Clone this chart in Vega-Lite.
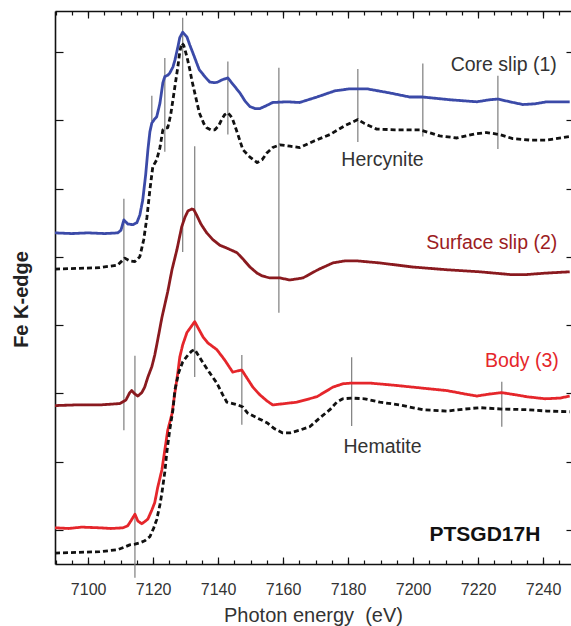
{
  "$schema": "https://vega.github.io/schema/vega-lite/v6.json",
  "width": 516,
  "height": 553,
  "autosize": "none",
  "padding": {"left": 55, "top": 11, "right": 0, "bottom": 62},
  "background": "white",
  "config": {
    "view": {"stroke": null},
    "font": "Liberation Sans",
    "axis": {
      "grid": false,
      "domainColor": "#111",
      "domainWidth": 1.6,
      "tickColor": "#111",
      "tickWidth": 1.2,
      "labelColor": "#333",
      "labelFont": "Liberation Sans",
      "labelFontSize": 16,
      "titleFont": "Liberation Sans",
      "titleColor": "#333"
    }
  },
  "datasets": {
    "spectra": [
      {"s":"Core slip (1)","E":7089.8,"A":4.35},{"s":"Core slip (1)","E":7095,"A":4.34},{"s":"Core slip (1)","E":7100,"A":4.35},{"s":"Core slip (1)","E":7105,"A":4.34},{"s":"Core slip (1)","E":7109.1,"A":4.35},{"s":"Core slip (1)","E":7110.1,"A":4.39},{"s":"Core slip (1)","E":7111.0,"A":4.54},{"s":"Core slip (1)","E":7112.2,"A":4.48},{"s":"Core slip (1)","E":7113.75,"A":4.47},{"s":"Core slip (1)","E":7115.0,"A":4.50},{"s":"Core slip (1)","E":7115.9,"A":4.61},{"s":"Core slip (1)","E":7116.8,"A":4.83},{"s":"Core slip (1)","E":7117.7,"A":5.20},{"s":"Core slip (1)","E":7118.4,"A":5.57},{"s":"Core slip (1)","E":7119.0,"A":5.83},{"s":"Core slip (1)","E":7119.6,"A":5.96},{"s":"Core slip (1)","E":7120.5,"A":6.02},{"s":"Core slip (1)","E":7121.1,"A":6.05},{"s":"Core slip (1)","E":7122.1,"A":6.25},{"s":"Core slip (1)","E":7123.0,"A":6.55},{"s":"Core slip (1)","E":7123.6,"A":6.64},{"s":"Core slip (1)","E":7124.5,"A":6.66},{"s":"Core slip (1)","E":7125.1,"A":6.69},{"s":"Core slip (1)","E":7126.1,"A":6.78},{"s":"Core slip (1)","E":7126.7,"A":6.88},{"s":"Core slip (1)","E":7127.6,"A":7.07},{"s":"Core slip (1)","E":7128.2,"A":7.21},{"s":"Core slip (1)","E":7129.1,"A":7.29},{"s":"Core slip (1)","E":7130.4,"A":7.22},{"s":"Core slip (1)","E":7131.3,"A":7.10},{"s":"Core slip (1)","E":7132.2,"A":6.99},{"s":"Core slip (1)","E":7133.4,"A":6.84},{"s":"Core slip (1)","E":7134.2,"A":6.74},{"s":"Core slip (1)","E":7135.9,"A":6.64},{"s":"Core slip (1)","E":7137.4,"A":6.56},{"s":"Core slip (1)","E":7139.0,"A":6.55},{"s":"Core slip (1)","E":7139.9,"A":6.56},{"s":"Core slip (1)","E":7141.1,"A":6.59},{"s":"Core slip (1)","E":7143.0,"A":6.62},{"s":"Core slip (1)","E":7144.5,"A":6.53},{"s":"Core slip (1)","E":7146.7,"A":6.40},{"s":"Core slip (1)","E":7148.3,"A":6.28},{"s":"Core slip (1)","E":7149.8,"A":6.20},{"s":"Core slip (1)","E":7151.4,"A":6.17},{"s":"Core slip (1)","E":7152.8,"A":6.17},{"s":"Core slip (1)","E":7154.7,"A":6.21},{"s":"Core slip (1)","E":7156.8,"A":6.26},{"s":"Core slip (1)","E":7161.1,"A":6.27},{"s":"Core slip (1)","E":7165.1,"A":6.26},{"s":"Core slip (1)","E":7170.4,"A":6.34},{"s":"Core slip (1)","E":7175.9,"A":6.43},{"s":"Core slip (1)","E":7180.5,"A":6.46},{"s":"Core slip (1)","E":7185.8,"A":6.46},{"s":"Core slip (1)","E":7192.8,"A":6.40},{"s":"Core slip (1)","E":7199.0,"A":6.34},{"s":"Core slip (1)","E":7203.0,"A":6.34},{"s":"Core slip (1)","E":7211.3,"A":6.30},{"s":"Core slip (1)","E":7219.6,"A":6.27},{"s":"Core slip (1)","E":7223.6,"A":6.30},{"s":"Core slip (1)","E":7226.1,"A":6.31},{"s":"Core slip (1)","E":7229.8,"A":6.27},{"s":"Core slip (1)","E":7233.8,"A":6.23},{"s":"Core slip (1)","E":7237.4,"A":6.24},{"s":"Core slip (1)","E":7241.2,"A":6.27},{"s":"Core slip (1)","E":7248.2,"A":6.27},

      {"s":"Hercynite","E":7089.8,"A":3.82},{"s":"Hercynite","E":7103.6,"A":3.84},{"s":"Hercynite","E":7109.1,"A":3.88},{"s":"Hercynite","E":7110.4,"A":3.94},{"s":"Hercynite","E":7111.3,"A":3.98},{"s":"Hercynite","E":7112.8,"A":3.94},{"s":"Hercynite","E":7114.4,"A":3.93},{"s":"Hercynite","E":7115.9,"A":4.00},{"s":"Hercynite","E":7117.1,"A":4.25},{"s":"Hercynite","E":7118.1,"A":4.58},{"s":"Hercynite","E":7119.0,"A":4.98},{"s":"Hercynite","E":7119.9,"A":5.32},{"s":"Hercynite","E":7121.1,"A":5.42},{"s":"Hercynite","E":7122.1,"A":5.60},{"s":"Hercynite","E":7123.0,"A":5.86},{"s":"Hercynite","E":7123.9,"A":5.89},{"s":"Hercynite","E":7124.5,"A":5.89},{"s":"Hercynite","E":7125.4,"A":6.08},{"s":"Hercynite","E":7126.1,"A":6.30},{"s":"Hercynite","E":7127.0,"A":6.59},{"s":"Hercynite","E":7127.6,"A":6.78},{"s":"Hercynite","E":7128.2,"A":7.00},{"s":"Hercynite","E":7128.8,"A":7.13},{"s":"Hercynite","E":7129.4,"A":7.10},{"s":"Hercynite","E":7130.4,"A":6.93},{"s":"Hercynite","E":7131.3,"A":6.74},{"s":"Hercynite","E":7131.9,"A":6.59},{"s":"Hercynite","E":7133.1,"A":6.34},{"s":"Hercynite","E":7134.2,"A":6.11},{"s":"Hercynite","E":7135.6,"A":5.95},{"s":"Hercynite","E":7136.5,"A":5.89},{"s":"Hercynite","E":7137.7,"A":5.86},{"s":"Hercynite","E":7139.0,"A":5.86},{"s":"Hercynite","E":7140.2,"A":5.92},{"s":"Hercynite","E":7141.1,"A":6.01},{"s":"Hercynite","E":7142.0,"A":6.08},{"s":"Hercynite","E":7143.0,"A":6.11},{"s":"Hercynite","E":7143.9,"A":6.06},{"s":"Hercynite","E":7144.5,"A":6.01},{"s":"Hercynite","E":7146.1,"A":5.79},{"s":"Hercynite","E":7147.6,"A":5.57},{"s":"Hercynite","E":7149.8,"A":5.46},{"s":"Hercynite","E":7152.0,"A":5.38},{"s":"Hercynite","E":7153.5,"A":5.42},{"s":"Hercynite","E":7155.0,"A":5.52},{"s":"Hercynite","E":7156.8,"A":5.60},{"s":"Hercynite","E":7159.0,"A":5.64},{"s":"Hercynite","E":7162.1,"A":5.62},{"s":"Hercynite","E":7165.1,"A":5.60},{"s":"Hercynite","E":7169.7,"A":5.70},{"s":"Hercynite","E":7174.4,"A":5.79},{"s":"Hercynite","E":7179.0,"A":5.92},{"s":"Hercynite","E":7183.0,"A":6.01},{"s":"Hercynite","E":7185.1,"A":5.95},{"s":"Hercynite","E":7188.8,"A":5.87},{"s":"Hercynite","E":7194.4,"A":5.86},{"s":"Hercynite","E":7202.1,"A":5.86},{"s":"Hercynite","E":7208.2,"A":5.77},{"s":"Hercynite","E":7213.5,"A":5.74},{"s":"Hercynite","E":7219.0,"A":5.80},{"s":"Hercynite","E":7222.7,"A":5.82},{"s":"Hercynite","E":7226.7,"A":5.79},{"s":"Hercynite","E":7230.7,"A":5.73},{"s":"Hercynite","E":7235.9,"A":5.71},{"s":"Hercynite","E":7241.2,"A":5.71},{"s":"Hercynite","E":7248.2,"A":5.76},

      {"s":"Surface slip (2)","E":7089.8,"A":1.82},{"s":"Surface slip (2)","E":7096,"A":1.83},{"s":"Surface slip (2)","E":7103.6,"A":1.83},{"s":"Surface slip (2)","E":7109.75,"A":1.85},{"s":"Surface slip (2)","E":7111.6,"A":1.90},{"s":"Surface slip (2)","E":7112.8,"A":2.01},{"s":"Surface slip (2)","E":7113.4,"A":2.04},{"s":"Surface slip (2)","E":7114.4,"A":1.99},{"s":"Surface slip (2)","E":7115.3,"A":1.96},{"s":"Surface slip (2)","E":7116.5,"A":2.01},{"s":"Surface slip (2)","E":7117.4,"A":2.09},{"s":"Surface slip (2)","E":7118.4,"A":2.24},{"s":"Surface slip (2)","E":7119.6,"A":2.39},{"s":"Surface slip (2)","E":7120.5,"A":2.56},{"s":"Surface slip (2)","E":7121.4,"A":2.78},{"s":"Surface slip (2)","E":7122.7,"A":3.11},{"s":"Surface slip (2)","E":7123.6,"A":3.30},{"s":"Surface slip (2)","E":7124.5,"A":3.49},{"s":"Surface slip (2)","E":7125.8,"A":3.81},{"s":"Surface slip (2)","E":7127.3,"A":4.10},{"s":"Surface slip (2)","E":7128.8,"A":4.44},{"s":"Surface slip (2)","E":7129.8,"A":4.58},{"s":"Surface slip (2)","E":7130.7,"A":4.67},{"s":"Surface slip (2)","E":7131.9,"A":4.70},{"s":"Surface slip (2)","E":7132.5,"A":4.69},{"s":"Surface slip (2)","E":7133.4,"A":4.61},{"s":"Surface slip (2)","E":7134.7,"A":4.48},{"s":"Surface slip (2)","E":7136.5,"A":4.35},{"s":"Surface slip (2)","E":7138.4,"A":4.25},{"s":"Surface slip (2)","E":7140.5,"A":4.17},{"s":"Surface slip (2)","E":7143.0,"A":4.12},{"s":"Surface slip (2)","E":7145.8,"A":4.06},{"s":"Surface slip (2)","E":7147.6,"A":3.97},{"s":"Surface slip (2)","E":7149.8,"A":3.85},{"s":"Surface slip (2)","E":7152.0,"A":3.76},{"s":"Surface slip (2)","E":7153.5,"A":3.72},{"s":"Surface slip (2)","E":7155.9,"A":3.69},{"s":"Surface slip (2)","E":7159.0,"A":3.69},{"s":"Surface slip (2)","E":7162.1,"A":3.66},{"s":"Surface slip (2)","E":7166.1,"A":3.69},{"s":"Surface slip (2)","E":7170.7,"A":3.81},{"s":"Surface slip (2)","E":7175.3,"A":3.91},{"s":"Surface slip (2)","E":7179.0,"A":3.94},{"s":"Surface slip (2)","E":7182.7,"A":3.94},{"s":"Surface slip (2)","E":7189.8,"A":3.91},{"s":"Surface slip (2)","E":7199.9,"A":3.85},{"s":"Surface slip (2)","E":7210.4,"A":3.81},{"s":"Surface slip (2)","E":7220.5,"A":3.78},{"s":"Surface slip (2)","E":7229.8,"A":3.74},{"s":"Surface slip (2)","E":7235.0,"A":3.74},{"s":"Surface slip (2)","E":7240.6,"A":3.76},{"s":"Surface slip (2)","E":7248.2,"A":3.78},

      {"s":"Body (3)","E":7089.8,"A":0.03},{"s":"Body (3)","E":7094,"A":0.02},{"s":"Body (3)","E":7098,"A":0.04},{"s":"Body (3)","E":7103.6,"A":0.03},{"s":"Body (3)","E":7107,"A":0.02},{"s":"Body (3)","E":7110.7,"A":0.03},{"s":"Body (3)","E":7112.2,"A":0.06},{"s":"Body (3)","E":7113.4,"A":0.15},{"s":"Body (3)","E":7114.4,"A":0.23},{"s":"Body (3)","E":7115.3,"A":0.13},{"s":"Body (3)","E":7116.5,"A":0.09},{"s":"Body (3)","E":7117.4,"A":0.12},{"s":"Body (3)","E":7118.4,"A":0.16},{"s":"Body (3)","E":7119.6,"A":0.29},{"s":"Body (3)","E":7120.5,"A":0.40},{"s":"Body (3)","E":7121.4,"A":0.62},{"s":"Body (3)","E":7122.7,"A":0.88},{"s":"Body (3)","E":7123.6,"A":1.17},{"s":"Body (3)","E":7124.5,"A":1.46},{"s":"Body (3)","E":7125.8,"A":1.70},{"s":"Body (3)","E":7126.7,"A":2.01},{"s":"Body (3)","E":7127.6,"A":2.30},{"s":"Body (3)","E":7128.2,"A":2.53},{"s":"Body (3)","E":7129.1,"A":2.71},{"s":"Body (3)","E":7130.4,"A":2.89},{"s":"Body (3)","E":7131.6,"A":2.97},{"s":"Body (3)","E":7132.8,"A":3.05},{"s":"Body (3)","E":7133.7,"A":2.97},{"s":"Body (3)","E":7135.3,"A":2.83},{"s":"Body (3)","E":7136.8,"A":2.74},{"s":"Body (3)","E":7139.6,"A":2.64},{"s":"Body (3)","E":7142.0,"A":2.49},{"s":"Body (3)","E":7144.5,"A":2.31},{"s":"Body (3)","E":7146.1,"A":2.33},{"s":"Body (3)","E":7147.3,"A":2.34},{"s":"Body (3)","E":7148.8,"A":2.23},{"s":"Body (3)","E":7150.7,"A":2.09},{"s":"Body (3)","E":7152.8,"A":1.98},{"s":"Body (3)","E":7155.0,"A":1.89},{"s":"Body (3)","E":7156.8,"A":1.83},{"s":"Body (3)","E":7160.5,"A":1.85},{"s":"Body (3)","E":7164.2,"A":1.87},{"s":"Body (3)","E":7170.4,"A":1.95},{"s":"Body (3)","E":7175.3,"A":2.09},{"s":"Body (3)","E":7178.4,"A":2.14},{"s":"Body (3)","E":7181.1,"A":2.15},{"s":"Body (3)","E":7186.7,"A":2.15},{"s":"Body (3)","E":7193.8,"A":2.12},{"s":"Body (3)","E":7202.1,"A":2.08},{"s":"Body (3)","E":7210.4,"A":2.04},{"s":"Body (3)","E":7216.0,"A":1.99},{"s":"Body (3)","E":7219.6,"A":1.96},{"s":"Body (3)","E":7223.6,"A":1.99},{"s":"Body (3)","E":7227.3,"A":2.01},{"s":"Body (3)","E":7231.3,"A":1.98},{"s":"Body (3)","E":7235.0,"A":1.95},{"s":"Body (3)","E":7240.6,"A":1.92},{"s":"Body (3)","E":7245.2,"A":1.93},{"s":"Body (3)","E":7248.2,"A":1.96},

      {"s":"Hematite","E":7089.8,"A":-0.34},{"s":"Hematite","E":7103.6,"A":-0.32},{"s":"Hematite","E":7109.1,"A":-0.29},{"s":"Hematite","E":7111.3,"A":-0.25},{"s":"Hematite","E":7112.8,"A":-0.22},{"s":"Hematite","E":7114.4,"A":-0.21},{"s":"Hematite","E":7115.9,"A":-0.19},{"s":"Hematite","E":7117.4,"A":-0.16},{"s":"Hematite","E":7119.0,"A":-0.10},{"s":"Hematite","E":7120.2,"A":0.03},{"s":"Hematite","E":7121.1,"A":0.15},{"s":"Hematite","E":7122.1,"A":0.37},{"s":"Hematite","E":7122.7,"A":0.54},{"s":"Hematite","E":7123.6,"A":0.85},{"s":"Hematite","E":7124.2,"A":1.13},{"s":"Hematite","E":7125.1,"A":1.46},{"s":"Hematite","E":7126.1,"A":1.76},{"s":"Hematite","E":7126.7,"A":2.05},{"s":"Hematite","E":7127.9,"A":2.31},{"s":"Hematite","E":7129.1,"A":2.46},{"s":"Hematite","E":7130.7,"A":2.56},{"s":"Hematite","E":7131.9,"A":2.62},{"s":"Hematite","E":7132.8,"A":2.64},{"s":"Hematite","E":7134.0,"A":2.55},{"s":"Hematite","E":7135.3,"A":2.45},{"s":"Hematite","E":7137.4,"A":2.30},{"s":"Hematite","E":7139.6,"A":2.15},{"s":"Hematite","E":7141.4,"A":1.98},{"s":"Hematite","E":7142.7,"A":1.87},{"s":"Hematite","E":7144.5,"A":1.85},{"s":"Hematite","E":7146.1,"A":1.83},{"s":"Hematite","E":7147.6,"A":1.80},{"s":"Hematite","E":7149.1,"A":1.71},{"s":"Hematite","E":7152.0,"A":1.64},{"s":"Hematite","E":7155.0,"A":1.57},{"s":"Hematite","E":7157.4,"A":1.48},{"s":"Hematite","E":7159.9,"A":1.42},{"s":"Hematite","E":7162.1,"A":1.42},{"s":"Hematite","E":7165.1,"A":1.46},{"s":"Hematite","E":7168.2,"A":1.51},{"s":"Hematite","E":7171.3,"A":1.64},{"s":"Hematite","E":7174.4,"A":1.76},{"s":"Hematite","E":7176.5,"A":1.87},{"s":"Hematite","E":7178.4,"A":1.92},{"s":"Hematite","E":7181.1,"A":1.93},{"s":"Hematite","E":7185.1,"A":1.92},{"s":"Hematite","E":7189.8,"A":1.87},{"s":"Hematite","E":7195.9,"A":1.83},{"s":"Hematite","E":7203.0,"A":1.76},{"s":"Hematite","E":7210.4,"A":1.74},{"s":"Hematite","E":7216.0,"A":1.77},{"s":"Hematite","E":7220.5,"A":1.79},{"s":"Hematite","E":7227.3,"A":1.77},{"s":"Hematite","E":7235.0,"A":1.76},{"s":"Hematite","E":7241.2,"A":1.74},{"s":"Hematite","E":7248.2,"A":1.73}
    ],
    "refs": [
      {"E":7111.0,"lo":1.46,"hi":4.85},
      {"E":7119.6,"lo":5.98,"hi":6.36},
      {"E":7123.6,"lo":5.54,"hi":6.91},
      {"E":7129.1,"lo":4.07,"hi":7.50},
      {"E":7143.0,"lo":5.79,"hi":6.86},
      {"E":7158.7,"lo":3.18,"hi":6.77},
      {"E":7183.0,"lo":5.68,"hi":6.75},
      {"E":7203.0,"lo":5.76,"hi":6.83},
      {"E":7226.1,"lo":5.58,"hi":6.65},
      {"E":7114.4,"lo":-0.70,"hi":2.55},
      {"E":7132.8,"lo":2.24,"hi":5.62},
      {"E":7147.3,"lo":1.54,"hi":2.56},
      {"E":7181.1,"lo":1.52,"hi":2.53},
      {"E":7227.3,"lo":1.51,"hi":2.17}
    ],
    "labels": [
      {"t":"Core slip (1)","E":7227.9,"A":6.81},
      {"t":"Hercynite","E":7190.6,"A":5.42},
      {"t":"Surface slip (2)","E":7224.2,"A":4.20},
      {"t":"Body (3)","E":7233.5,"A":2.48},
      {"t":"Hematite","E":7190.6,"A":1.22},
      {"t":"PTSGD17H","E":7222.1,"A":-0.07}
    ]
  },
  "layer": [
    {
      "data": {"name": "refs"},
      "mark": {"type": "rule", "color": "#7d7d7d", "strokeWidth": 1.2},
      "encoding": {
        "x": {"field": "E", "type": "quantitative",
              "scale": {"domain": [7089.8, 7248.6], "nice": false, "zero": false},
              "axis": {"orient": "bottom", "values": [7090,7095,7100,7105,7110,7115,7120,7125,7130,7135,7140,7145,7150,7155,7160,7165,7170,7175,7180,7185,7190,7195,7200,7205,7210,7215,7220,7225,7230,7235,7240,7245],
                       "tickSize": -4, "labels": false, "domain": false, "title": null}},
        "y": {"field": "lo", "type": "quantitative",
              "scale": {"domain": [-0.5, 7.6], "nice": false, "zero": false},
              "axis": {"orient": "right", "values": [0,1,2,3,4,5,6,7], "tickSize": -5, "labels": false, "domain": false, "title": null}},
        "y2": {"field": "hi"}
      }
    },
    {
      "data": {"name": "spectra"},
      "mark": {"type": "line", "strokeWidth": 2.8, "strokeJoin": "round"},
      "encoding": {
        "x": {"field": "E", "type": "quantitative",
              "scale": {"domain": [7089.8, 7248.6], "nice": false, "zero": false},
              "axis": {"orient": "bottom", "values": [7100,7120,7140,7160,7180,7200,7220,7240], "format": "d",
                       "tickSize": -7, "labelPadding": 24, "domain": true,
                       "title": "Photon energy\u00a0 (eV)", "titleFontSize": 20, "titleFontWeight": "normal",
                       "titleBaseline": "alphabetic", "titleY": 57, "titleX": 258, "titleAlign": "center"}},
        "y": {"field": "A", "type": "quantitative",
              "scale": {"domain": [-0.5, 7.6], "nice": false, "zero": false},
              "axis": {"orient": "left", "values": [0,1,2,3,4,5,6,7], "tickSize": -8, "labels": false, "domain": true,
                       "title": "Fe K-edge", "titleFontSize": 20, "titleFontWeight": "bold", "titleColor": "#222",
                       "titleAngle": 270, "titleBaseline": "alphabetic", "titleAlign": "center", "titleX": -28, "titleY": 288}},
        "color": {"field": "s", "type": "nominal", "legend": null,
                  "scale": {"domain": ["Core slip (1)", "Hercynite", "Surface slip (2)", "Body (3)", "Hematite"],
                            "range": ["#3b4aa8", "#111111", "#8a1a1f", "#e5262b", "#111111"]}},
        "strokeDash": {"field": "s", "type": "nominal", "legend": null,
                  "scale": {"domain": ["Core slip (1)", "Hercynite", "Surface slip (2)", "Body (3)", "Hematite"],
                            "range": [[1,0], [5,3], [1,0], [1,0], [5,3]]}},
        "detail": {"field": "s"}
      }
    },
    {
      "data": {"name": "labels"},
      "transform": [{"filter": "indexof(['Core slip (1)','Hercynite','Hematite'], datum.t) >= 0"}],
      "mark": {"type": "text", "fontSize": 19.5, "color": "#333", "align": "center", "baseline": "middle"},
      "encoding": {
        "x": {"field": "E", "type": "quantitative",
              "scale": {"domain": [7089.8, 7248.6], "nice": false, "zero": false},
              "axis": {"orient": "top", "values": [7100,7120,7140,7160,7180,7200,7220,7240], "tickSize": -7, "labels": false, "domain": true, "title": null}},
        "y": {"field": "A", "type": "quantitative", "scale": {"domain": [-0.5, 7.6], "nice": false, "zero": false}, "axis": null},
        "text": {"field": "t"}
      }
    },
    {
      "data": {"name": "labels"},
      "transform": [{"filter": "datum.t === 'PTSGD17H'"}],
      "mark": {"type": "text", "fontSize": 21, "fontWeight": "bold", "color": "#111", "align": "center", "baseline": "middle"},
      "encoding": {
        "x": {"field": "E", "type": "quantitative",
              "scale": {"domain": [7089.8, 7248.6], "nice": false, "zero": false},
              "axis": {"orient": "top", "values": [7090,7095,7100,7105,7110,7115,7120,7125,7130,7135,7140,7145,7150,7155,7160,7165,7170,7175,7180,7185,7190,7195,7200,7205,7210,7215,7220,7225,7230,7235,7240,7245],
                       "tickSize": -4, "labels": false, "domain": false, "title": null}},
        "y": {"field": "A", "type": "quantitative", "scale": {"domain": [-0.5, 7.6], "nice": false, "zero": false}, "axis": null},
        "text": {"field": "t"}
      }
    },
    {
      "data": {"name": "labels"},
      "transform": [{"filter": "datum.t === 'Surface slip (2)'"}],
      "mark": {"type": "text", "fontSize": 19.5, "color": "#9c1c23", "align": "center", "baseline": "middle"},
      "encoding": {
        "x": {"field": "E", "type": "quantitative", "scale": {"domain": [7089.8, 7248.6], "nice": false, "zero": false}, "axis": null},
        "y": {"field": "A", "type": "quantitative", "scale": {"domain": [-0.5, 7.6], "nice": false, "zero": false}, "axis": null},
        "text": {"field": "t"}
      }
    },
    {
      "data": {"name": "labels"},
      "transform": [{"filter": "datum.t === 'Body (3)'"}],
      "mark": {"type": "text", "fontSize": 19.5, "color": "#e5262b", "align": "center", "baseline": "middle"},
      "encoding": {
        "x": {"field": "E", "type": "quantitative", "scale": {"domain": [7089.8, 7248.6], "nice": false, "zero": false}, "axis": null},
        "y": {"field": "A", "type": "quantitative", "scale": {"domain": [-0.5, 7.6], "nice": false, "zero": false}, "axis": null},
        "text": {"field": "t"}
      }
    }
  ],
  "resolve": {"axis": {"x": "independent", "y": "independent"}}
}
